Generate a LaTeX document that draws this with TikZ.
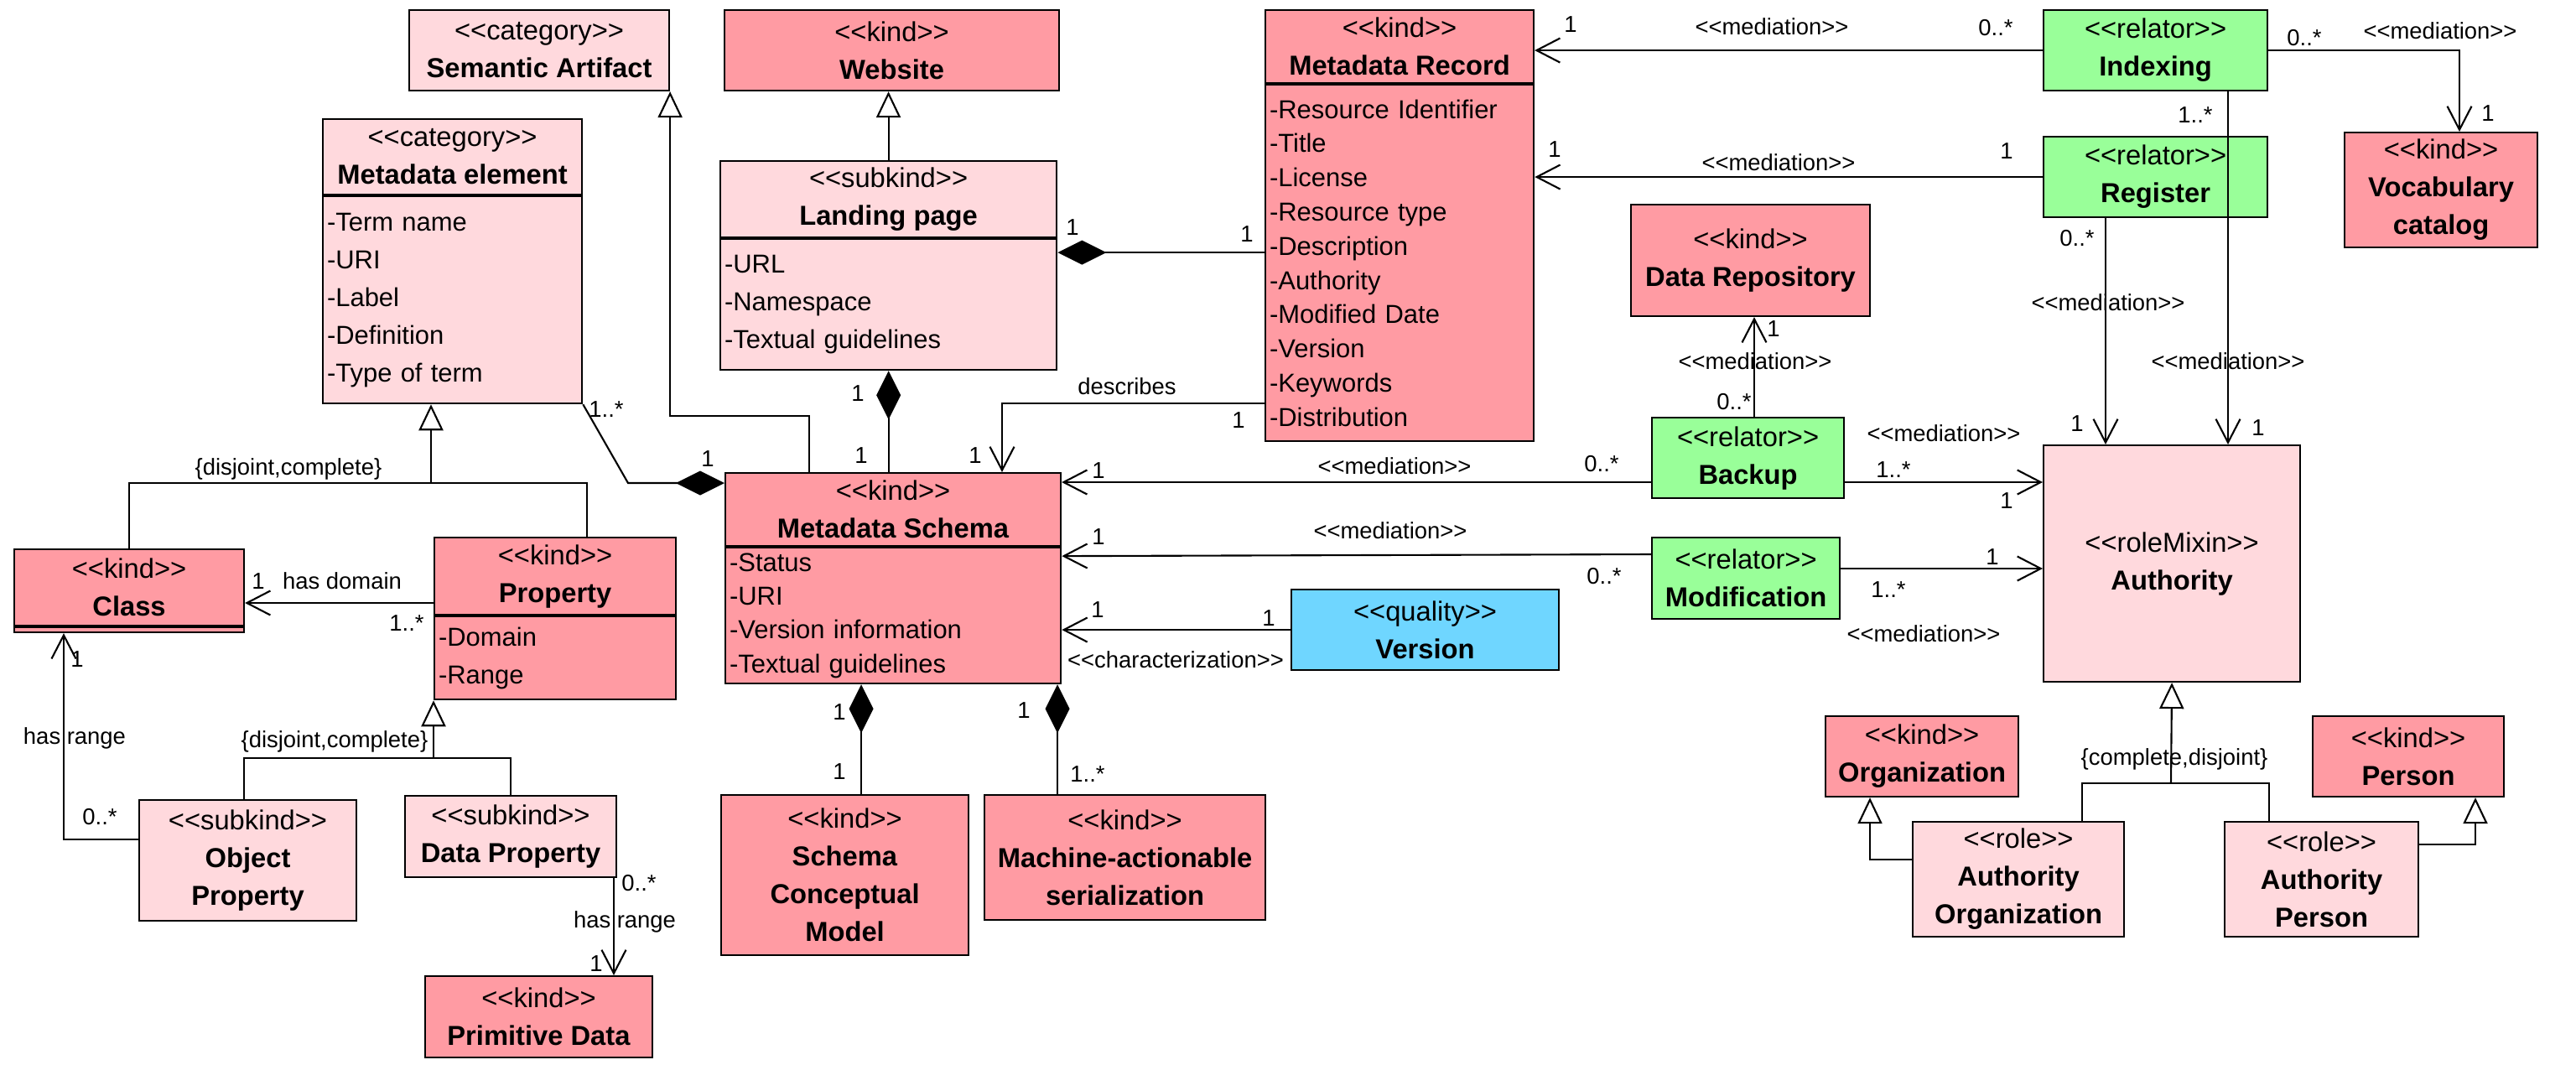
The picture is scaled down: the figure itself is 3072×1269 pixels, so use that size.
\documentclass[tikz,border=0pt]{standalone}
\usepackage{fontspec}
\setmainfont{Liberation Sans}
\usetikzlibrary{arrows.meta,calc}
\definecolor{kindred}{HTML}{FF9BA3}
\definecolor{rolepink}{HTML}{FFD9DD}
\definecolor{relgreen}{HTML}{99FF99}
\definecolor{qualblue}{HTML}{6FD6FF}
\newcommand{\stereo}[1]{<\kern0pt<#1>\kern0pt>}

\begin{document}
\begin{tikzpicture}[x=0.01cm,y=-0.01cm,line width=0.6pt,
    sz/.style 2 args={minimum width=#1*0.01cm,minimum height=#2*0.01cm}]
  \tikzstyle{box}=[draw,anchor=north west,inner sep=0pt,align=center,font=\fontsize{9.3}{12.8}\selectfont]
  \tikzstyle{kind}=[box,fill=kindred]
  \tikzstyle{light}=[box,fill=rolepink]
  \tikzstyle{relator}=[box,fill=relgreen]
  \tikzstyle{quality}=[box,fill=qualblue]
  \tikzstyle{attr}=[inner xsep=0.05cm,inner ysep=0pt,align=left,font=\fontsize{8.8}{12.8}\selectfont]
  \tikzstyle{lbl}=[inner sep=0pt,text height=5.6pt,text depth=0pt,font=\fontsize{7.8}{9}\selectfont]
  \tikzstyle{gen}=[-{Triangle[open,length=3.1mm,width=2.9mm]}]
  \tikzstyle{med}=[-{Straight Barb[length=2.8mm,width=2.9mm]}]
  \tikzstyle{comp}=[{Diamond[length=5.8mm,width=2.9mm]}-]
  \fill[white] (0,0) rectangle (3072,1269);
  % Classes
  \node[light,sz={310}{96}] (sa) at (487,11) {\stereo{category}\\\textbf{Semantic Artifact}};
  \node[kind,sz={399}{96}] (web) at (863,11) {\stereo{kind}\\\textbf{Website}};
  \node[kind,sz={320}{87}] (mr) at (1508,11) {\stereo{kind}\\\textbf{Metadata Record}};
  \node[kind,attr,sz={320}{425},text width=3.1cm,font=\fontsize{8.8}{11.6}\selectfont] (mr-a) at (mr.south west)
    {-Resource Identifier\\-Title\\-License\\-Resource type\\-Description\\-Authority\\-Modified Date\\-Version\\-Keywords\\-Distribution};
  \node[relator,sz={267}{96}] (idx) at (2436,11) {\stereo{relator}\\\textbf{Indexing}};
  \node[relator,sz={267}{96}] (reg) at (2436,162) {\stereo{relator}\\\textbf{Register}};
  \node[kind,sz={230}{137}] (voc) at (2795,157) {\stereo{kind}\\\textbf{Vocabulary}\\\textbf{catalog}};
  \node[light,sz={309}{90}] (me) at (384,141) {\stereo{category}\\\textbf{Metadata element}};
  \node[light,attr,sz={309}{247},text width=2.99cm] (me-a) at (me.south west)
    {-Term name\\-URI\\-Label\\-Definition\\-Type of term};
  \node[light,sz={401}{91}] (lp) at (858,191) {\stereo{subkind}\\\textbf{Landing page}};
  \node[light,attr,sz={401}{156},text width=3.91cm] (lp-a) at (lp.south west)
    {-URL\\-Namespace\\-Textual guidelines};
  \node[kind,sz={285}{133}] (dr) at (1944,243) {\stereo{kind}\\\textbf{Data Repository}};
  \node[kind,sz={400}{87}] (ms) at (864,563) {\stereo{kind}\\\textbf{Metadata Schema}};
  \node[kind,attr,sz={400}{162},text width=3.9cm,font=\fontsize{8.8}{11.5}\selectfont] (ms-a) at (ms.south west)
    {-Status\\-URI\\-Version information\\-Textual guidelines};
  \node[relator,sz={229}{96}] (bak) at (1969,497) {\stereo{relator}\\\textbf{Backup}};
  \node[relator,sz={224}{97}] (mod) at (1969,640) {\stereo{relator}\\\textbf{Modification}};
  \node[quality,sz={319}{96}] (ver) at (1539,702) {\stereo{quality}\\\textbf{Version}};
  \node[light,sz={306}{282}] (auth) at (2436,530) {\stereo{roleMixin}\\\textbf{Authority}};
  \node[kind,sz={274}{91}] (cls) at (16,654) {\stereo{kind}\\\textbf{Class}};
  \node[kind,sz={274}{6}] (cls-a) at (cls.south west) {};
  \node[kind,sz={288}{92}] (prop) at (517,640) {\stereo{kind}\\\textbf{Property}};
  \node[kind,attr,sz={288}{99},text width=2.78cm] (prop-a) at (prop.south west) {-Domain\\-Range};
  \node[light,sz={259}{144}] (op) at (165,953) {\stereo{subkind}\\\textbf{Object}\\\textbf{Property}};
  \node[light,sz={252}{97}] (dp) at (482,948) {\stereo{subkind}\\\textbf{Data Property}};
  \node[kind,sz={271}{97}] (pd) at (506,1163) {\stereo{kind}\\\textbf{Primitive Data}};
  \node[kind,sz={295}{191}] (scm) at (859,947) {\stereo{kind}\\\textbf{Schema}\\\textbf{Conceptual}\\\textbf{Model}};
  \node[kind,sz={335}{149}] (mas) at (1173,947) {\stereo{kind}\\\textbf{Machine-actionable}\\\textbf{serialization}};
  \node[kind,sz={230}{96}] (org) at (2176,853) {\stereo{kind}\\\textbf{Organization}};
  \node[kind,sz={228}{96}] (per) at (2757,853) {\stereo{kind}\\\textbf{Person}};
  \node[light,sz={252}{137}] (ao) at (2280,979) {\stereo{role}\\\textbf{Authority}\\\textbf{Organization}};
  \node[light,sz={231}{137}] (ap) at (2652,979) {\stereo{role}\\\textbf{Authority}\\\textbf{Person}};
  % Generalizations
  \coordinate (me-g) at (514,576);
  \coordinate (prop-g) at (517,904);
  \coordinate (auth-g) at (2589,934);
  \draw[gen] ($(ms.north west)+(101,0)$) -- ++(0,-67) -| (sa.south east);
  \draw[gen] (lp.north) -- (lp.north |- web.south);
  \draw[gen] (me-g) -- (me-g |- me-a.south);
  \draw (cls.north) |- (me-g) -| ($(prop.north west)+(183,0)$);
  \draw[gen] (prop-g) -- (prop-a.south west);
  \draw ($(op.north west)+(126,0)$) |- (prop-g) -| (dp.north);
  \draw[gen] (auth-g) -- (auth.south);
  \draw ($(ao.north west)+(203,0)$) |- (auth-g) -| ($(ap.north west)+(54,0)$);
  \draw[gen] ($(ao.north west)+(0,46)$) -| ($(org.south west)+(54,0)$);
  \draw[gen] ($(ap.north east)+(0,28)$) -| ($(per.south west)+(195,0)$);
  % Compositions
  \draw[comp] ($(ms.north west)+(0,13)$) -- ++(-115,0) -- (me-a.south east);
  \draw[comp] ($(lp-a.north east)+(0,17)$) -- ($(mr-a.north west)+(0,201)$);
  \draw[comp] (lp-a.south) -- (lp-a.south |- ms.north);
  \draw[comp] ($(ms-a.south west)+(163,0)$) -- ($(scm.north west)+(168,0)$);
  \draw[comp] ($(ms-a.south west)+(397,0)$) -- ($(mas.north west)+(88,0)$);
  % Associations
  \draw[med] ($(mr-a.south west)+(0,-46)$) -| ($(ms.north west)+(331,0)$);
  \draw[med] (idx.west) -- (idx.west -| mr.east);
  \draw[med] (reg.west) -- (reg.west -| mr-a.east);
  \draw[med] (idx.east) -| ($(voc.north west)+(138,0)$);
  \draw[med] ($(idx.south west)+(221,0)$) -- ($(auth.north west)+(221,0)$);
  \draw[med] ($(reg.south west)+(75,0)$) -- ($(auth.north west)+(75,0)$);
  \draw[med] ($(bak.north west)+(123,0)$) -- ($(dr.south west)+(148,0)$);
  \draw[med] ($(bak.north west)+(0,78)$) -- ($(ms.north east)+(0,12)$);
  \draw[med] ($(bak.north east)+(0,78)$) -- ($(auth.north west)+(0,45)$);
  \draw[med] ($(mod.north west)+(0,21)$) -- ($(ms-a.north east)+(0,11)$);
  \draw[med] ($(mod.north east)+(0,38)$) -- ($(auth.north west)+(0,148)$);
  \draw[med] (ver.west) -- (ver.west -| ms-a.east);
  \draw[med] ($(prop.north west)+(0,79)$) -- ($(cls.north east)+(0,65)$);
  \draw[med] ($(op.north west)+(0,48)$) -| ($(cls-a.south west)+(60,0)$);
  \draw[med] ($(dp.south west)+(250,0)$) -- ($(pd.north west)+(226,0)$);
  % Labels
  \node[lbl] (l1) at (723,488) {1..*};
  \node[lbl] (l2) at (844,547) {1};
  \node[lbl] (l3) at (1279,271) {1};
  \node[lbl] (l4) at (1487,279) {1};
  \node[lbl] (l5) at (1023,469) {1};
  \node[lbl] (l6) at (1027,543) {1};
  \node[lbl] (l7) at (1344,461) {describes};
  \node[lbl] (l8) at (1477,501) {1};
  \node[lbl] (l9) at (1163,543) {1};
  \node[lbl] (l10) at (1873,29) {1};
  \node[lbl] (l11) at (2113,32) {\stereo{mediation}};
  \node[lbl] (l12) at (2380,33) {0..*};
  \node[lbl] (l13) at (1854,178) {1};
  \node[lbl] (l14) at (2121,194) {\stereo{mediation}};
  \node[lbl] (l15) at (2393,180) {1};
  \node[lbl] (l16) at (2748,45) {0..*};
  \node[lbl] (l17) at (2910,37) {\stereo{mediation}};
  \node[lbl] (l18) at (2967,135) {1};
  \node[lbl] (l19) at (2618,137) {1..*};
  \node[lbl] (l20) at (2657,431) {\stereo{mediation}};
  \node[lbl] (l21) at (2693,510) {1};
  \node[lbl] (l22) at (2477,284) {0..*};
  \node[lbl] (l23) at (2514,361) {\stereo{mediation}};
  \node[lbl] (l24) at (2477,505) {1};
  \node[lbl] (l25) at (2115,392) {1};
  \node[lbl] (l26) at (2093,431) {\stereo{mediation}};
  \node[lbl] (l27) at (2068,479) {0..*};
  \node[lbl] (l28) at (1310,561) {1};
  \node[lbl] (l29) at (1663,556) {\stereo{mediation}};
  \node[lbl] (l30) at (1910,553) {0..*};
  \node[lbl] (l31) at (2318,517) {\stereo{mediation}};
  \node[lbl] (l32) at (2258,560) {1..*};
  \node[lbl] (l33) at (2393,597) {1};
  \node[lbl] (l34) at (1310,640) {1};
  \node[lbl] (l35) at (1658,633) {\stereo{mediation}};
  \node[lbl] (l36) at (1913,687) {0..*};
  \node[lbl] (l37) at (2376,664) {1};
  \node[lbl] (l38) at (2252,703) {1..*};
  \node[lbl] (l39) at (2294,756) {\stereo{mediation}};
  \node[lbl] (l40) at (1309,727) {1};
  \node[lbl] (l41) at (1513,737) {1};
  \node[lbl] (l42) at (1402,787) {\stereo{characterization}};
  \node[lbl] (l43) at (1001,849) {1};
  \node[lbl] (l44) at (1001,920) {1};
  \node[lbl] (l45) at (1221,847) {1};
  \node[lbl] (l46) at (1297,923) {1..*};
  \node[lbl] (l47) at (308,693) {1};
  \node[lbl] (l48) at (408,693) {has domain};
  \node[lbl] (l49) at (485,743) {1..*};
  \node[lbl] (l50) at (92,786) {1};
  \node[lbl] (l51) at (89,878) {has range};
  \node[lbl] (l52) at (119,974) {0..*};
  \node[lbl] (l53) at (762,1053) {0..*};
  \node[lbl] (l54) at (745,1097) {has range};
  \node[lbl] (l55) at (711,1149) {1};
  \node[lbl] (l56) at (344,557) {\{disjoint,complete\}};
  \node[lbl] (l57) at (399,882) {\{disjoint,complete\}};
  \node[lbl] (l58) at (2593,903) {\{complete,disjoint\}};
\end{tikzpicture}
\end{document}
